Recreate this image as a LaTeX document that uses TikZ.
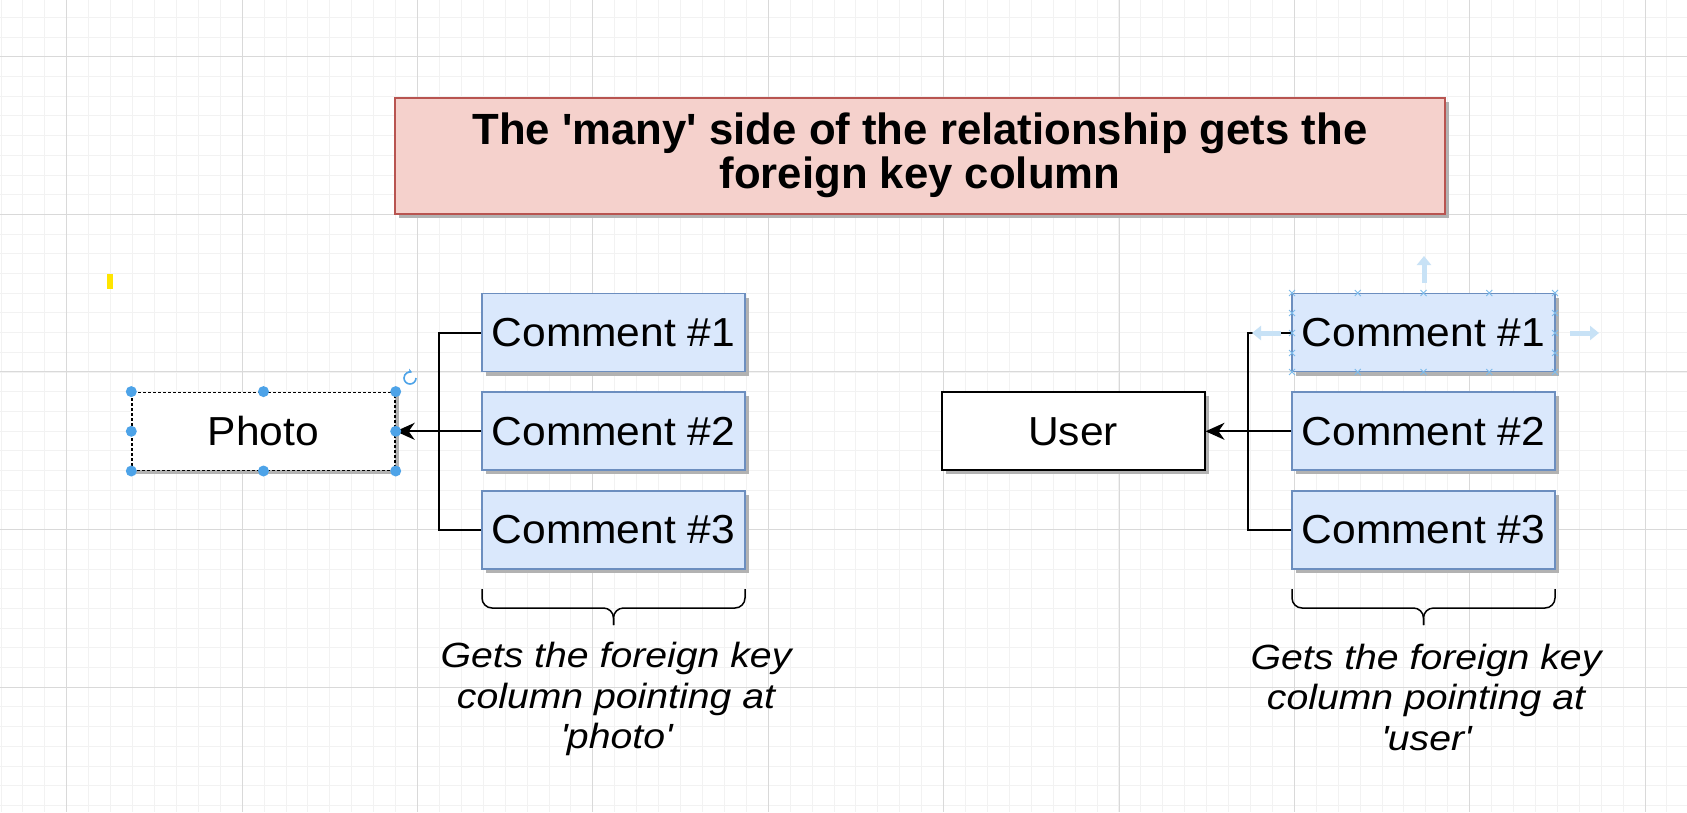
\documentclass[tikz,border=0pt]{standalone}
\usepackage{fontspec}
\setmainfont{Liberation Sans}
\newfontfamily\boxfont{Liberation Sans}[FakeStretch=1.05]
\newfontfamily\notefont{Liberation Sans}[FakeStretch=1.12]
\usetikzlibrary{arrows.meta,positioning,shadows}
\definecolor{gridminor}{HTML}{F2F2F2}
\definecolor{gridmajor}{HTML}{D9D9D9}
\definecolor{titlefill}{HTML}{F5D1CC}
\definecolor{titleline}{HTML}{B85450}
\definecolor{tablefill}{HTML}{DAE8FC}
\definecolor{tableline}{HTML}{6C8EBF}
\definecolor{handleblue}{HTML}{4DA3E8}
\definecolor{hintblue}{HTML}{C8E2F6}
\definecolor{xblue}{HTML}{7DBBEB}
\definecolor{marker}{HTML}{FFE500}

\begin{document}
\begin{tikzpicture}[x=1pt,y=-1pt]
\tikzset{
  gridline/.style={draw=gridminor,line width=0.8pt},
  gridbold/.style={draw=gridmajor,line width=0.9pt},
  boxshadow/.style={drop shadow={shadow xshift=4pt,shadow yshift=-4pt,fill=black!30,opacity=1}},
  titlebox/.style={rectangle,draw=titleline,fill=titlefill,line width=2pt,minimum width=1050pt,minimum height=116pt,
    align=center,font=\bfseries\fontsize{43.7}{43.5}\selectfont,boxshadow},
  entitybox/.style={rectangle,draw=black,fill=white,line width=2pt,minimum width=263pt,minimum height=78pt,
    inner sep=0pt,font=\boxfont\fontsize{40.5}{48}\selectfont,boxshadow},
  selectedbox/.style={entitybox,dash pattern=on 3pt off 2pt,line width=1.4pt},
  commentbox/.style={rectangle,draw=tableline,fill=tablefill,line width=1.9pt,minimum width=263pt,minimum height=78pt,
    inner sep=0pt,font=\boxfont\fontsize{40.5}{48}\selectfont,boxshadow},
  link/.style={draw=black,line width=2pt},
  fklink/.style={link,-{Stealth[length=19pt,width=17pt,inset=6pt]}},
  bracket/.style={draw=black,line width=1.5pt,rounded corners=10pt},
  note/.style={align=center,inner sep=0pt,font=\notefont\itshape\fontsize{35}{40.5}\selectfont},
  handle/.style={fill=handleblue},
  hint/.style={draw=hintblue,line width=5pt,-{Triangle[length=9pt,width=14pt]}},
  xmark/.style={draw=xblue,line width=0.8pt}
}
\useasboundingbox (0,0) rectangle (1687,812);
\fill[white] (0,0) rectangle (1687,812);
\foreach \i in {0,...,76} \draw[gridline] ({0.94+21.92*\i},0) -- ({0.94+21.92*\i},812);
\foreach \j in {0,...,40} \draw[gridline] (0,{17.3+19.7*\j}) -- (1687,{17.3+19.7*\j});
\foreach \i in {0,...,9} \draw[gridbold] ({66.7+175.4*\i},0) -- ({66.7+175.4*\i},812);
\foreach \j in {0,...,4} \draw[gridbold] (0,{56.7+157.6*\j}) -- (1687,{56.7+157.6*\j});
\fill[marker] (107,274) rectangle (113,289);

\node[titlebox] (title) at (920,155.5) {The \textquotesingle many\textquotesingle{} side of the relationship gets the\\foreign key column};

\node[selectedbox] (photo) at (263.5,431.3) {Photo};
\node[commentbox] (lc1) at (613.5,332.5) {Comment \#1};
\node[commentbox] (lc2) at (613.5,431.3) {Comment \#2};
\node[commentbox] (lc3) at (613.5,530) {Comment \#3};
\coordinate (ljoin) at (439,431.3);
\draw[link] (lc1.west) -| (ljoin);
\draw[link] (lc3.west) -| (ljoin);
\draw[fklink] (lc2.west) -- (photo.east);

\node[entitybox] (user) at (1073,431.3) {User};
\node[commentbox] (rc1) at (1423.5,332.5) {Comment \#1};
\node[commentbox] (rc2) at (1423.5,431.3) {Comment \#2};
\node[commentbox] (rc3) at (1423.5,530) {Comment \#3};
\coordinate (rjoin) at (1248,431.3);
\draw[link] (rc1.west) -| (rjoin);
\draw[link] (rc3.west) -| (rjoin);
\draw[fklink] (rc2.west) -- (user.east);

\foreach \a in {north west,north,north east,west,east,south west,south,south east}
  \fill[handle] (photo.\a) circle (5.5);
\draw[handleblue,line width=1.6pt,-{Stealth[length=4pt,width=5pt]}] (416,378) arc (0:290:6);

\foreach \x in {1292,1357.75,1423.5,1489.25,1555}
  \draw[xmark] (\x-3,290) -- (\x+3,296) (\x-3,296) -- (\x+3,290)
               (\x-3,369) -- (\x+3,375) (\x-3,375) -- (\x+3,369);
\foreach \y in {313,333,353}
  \draw[xmark] (1289,\y-3) -- (1295,\y+3) (1289,\y+3) -- (1295,\y-3)
               (1552,\y-3) -- (1558,\y+3) (1552,\y+3) -- (1558,\y-3);
\draw[hint] (1424,283) -- (1424,256);
\draw[hint] (1570,333) -- (1599,333);
\draw[hint] (1281,333) -- (1252,333);

\draw[bracket] (482,589) |- (613.5,608) -- (613.5,625);
\draw[bracket] (745,589) |- (613.5,608) -- (613.5,625);
\node[note] (lnote) at (616,699) {Gets the foreign key\\column pointing at\\\textquotesingle photo\textquotesingle};

\draw[bracket] (1292,589) |- (1423.5,608) -- (1423.5,625);
\draw[bracket] (1555,589) |- (1423.5,608) -- (1423.5,625);
\node[note] (rnote) at (1426,697) {Gets the foreign key\\column pointing at\\\textquotesingle user\textquotesingle};
\end{tikzpicture}
\end{document}
